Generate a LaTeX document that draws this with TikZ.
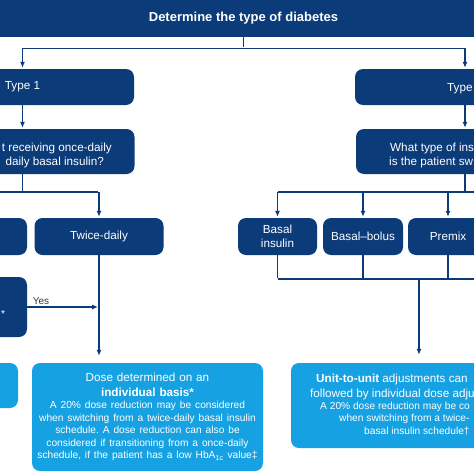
\documentclass[tikz,border=0pt]{standalone}
\usepackage{fontspec}
\setmainfont{Liberation Sans}
\setsansfont{Liberation Sans}
\usetikzlibrary{arrows.meta}
\definecolor{navy}{RGB}{11,59,120}
\definecolor{sky}{RGB}{22,161,226}
\definecolor{ink}{RGB}{55,55,60}
\newcommand{\bigtxt}{\fontsize{11.7}{14.5}\selectfont}
\newcommand{\smalltxt}{\fontsize{10.2}{12.5}\selectfont}
\setlength{\parindent}{0pt}
\frenchspacing
\begin{document}
\begin{tikzpicture}[x=1pt, y=-1pt, font=\sffamily\bigtxt, >={Latex[length=6pt,width=5pt]},
          link/.style={draw=navy, line width=1.1pt, shorten >=1pt},
          box/.style={fill=navy, text=white, rounded corners=8pt, align=center, inner sep=0pt},
          light/.style={box, fill=sky},
          cut/.style={text=white, inner sep=0pt}]
        \useasboundingbox (0,0) rectangle (474,474);
        \clip (0,0) rectangle (474,474);
        \node[box, rounded corners=0pt, font=\sffamily\bfseries\fontsize{13}{15}\selectfont, minimum width=510, minimum height=37] (title) at (243.5,18.5) {Determine the type of diabetes};
        \node[box, minimum width=223, minimum height=36] (type1) at (22.5,87) {Type 1};
        \node[box, minimum width=220, minimum height=36] (type2) at (465,87) {};
        \node[cut, anchor=base west] (type2txt) at (447,91.5) {Type};
        \node[box, minimum width=224, minimum height=45] (q1) at (22.5,151.5) {};
        \node[cut, anchor=base east] (q1a) at (112,151) {t receiving once-daily};
        \node[cut, anchor=base east] (q1b) at (104,165) {daily basal insulin?};
        \node[box, minimum width=218, minimum height=45] (q2) at (465,151.5) {};
        \node[cut, anchor=base west] (q2a) at (390,151) {What type of ins};
        \node[cut, anchor=base west] (q2b) at (389,165) {is the patient sw};
        \node[box, minimum width=129, minimum height=37] (once) at (-37.5,236.5) {};
        \node[box, minimum width=129, minimum height=37] (twice) at (99,236.5) {Twice-daily};
        \node[box, minimum width=79, minimum height=37] (basal) at (277.5,236.5) {Basal\\insulin};
        \node[box, minimum width=80, minimum height=37] (bolus) at (363,236.5) {Basal--bolus};
        \node[box, minimum width=80, minimum height=37] (premix) at (448,236.5) {Premix};
        \node[box, minimum width=129, minimum height=60] (prior) at (-37.5,307) {};
        \node[cut, font=\sffamily\smalltxt] (star) at (3,314) {*};
        \node[light, minimum width=120, minimum height=45] (left) at (-42,385.5) {};
        \node[light, text width=231, minimum height=108] (dose) at (147.5,417) {\centering{\bigtxt Dose determined on an\\ \textbf{individual basis*}\par}
          \smalltxt A 20\% dose reduction may be considered\\ when switching from a twice-daily basal insulin\\ schedule. A dose reduction can also be\\ considered if transitioning from a once-daily\\ schedule, if the patient has a low HbA\textsubscript{1c} value‡\par};
        \node[light, minimum width=256, minimum height=85] (unit) at (419,405.5) {};
        \node[cut, anchor=base west] (u1) at (316,382) {\textbf{Unit-to-unit} adjustments can};
        \node[cut, anchor=base west] (u2) at (310,397) {followed by individual dose adju};
        \node[cut, anchor=base west, font=\sffamily\smalltxt] (u3) at (320,409.5) {A 20\% dose reduction may be co};
        \node[cut, anchor=base west, font=\sffamily\smalltxt] (u4) at (339,421.5) {when switching from a twice-};
        \node[cut, anchor=base west, font=\sffamily\smalltxt] (u5) at (364,434.5) {basal insulin schedule†};
        \coordinate (j1) at (22.5,192);
        \coordinate (j2) at (465,192);
        \coordinate (r1) at (490,192);
        \coordinate (j3) at (419,279);
        \coordinate (r2) at (490,279);
        \draw[link] (title.south) -- ++(0,11) coordinate (j0);
        \draw[link,->] (j0) -| (type1.north);
        \draw[link,->] (j0) -| (type2.north);
        \draw[link,->] (type1) -- (q1);
        \draw[link,->] (type2) -- (q2);
        \draw[link] (q1) -- (j1);
        \draw[link] (j1 -| once.north) -- (j1 -| twice.north);
        \draw[link,->] (j1 -| once.north) -- (once);
        \draw[link,->] (j1 -| twice.north) -- (twice);
        \draw[link,->,shorten >=7pt] (twice) -- (twice.south |- dose.north);
        \draw[link,->] (prior.east) -- node[pos=0, above right, text=ink, font=\sffamily\fontsize{10}{12}\selectfont, inner sep=2pt, xshift=3pt] (yes) {Yes} (prior.east -| twice.south);
        \draw[link] (q2) -- (j2);
        \draw[link] (j2 -| basal.north) -- (r1);
        \foreach \b in {basal,bolus,premix} \draw[link,->] (j2 -| \b.north) -- (\b);
        \foreach \b in {basal,bolus,premix} \draw[link] (\b) -- (j3 -| \b.south);
        \draw[link] (j3 -| basal.south) -- (r2);
        \draw[link,->,shorten >=8pt] (j3) -- (unit);
      \end{tikzpicture}
\end{document}
